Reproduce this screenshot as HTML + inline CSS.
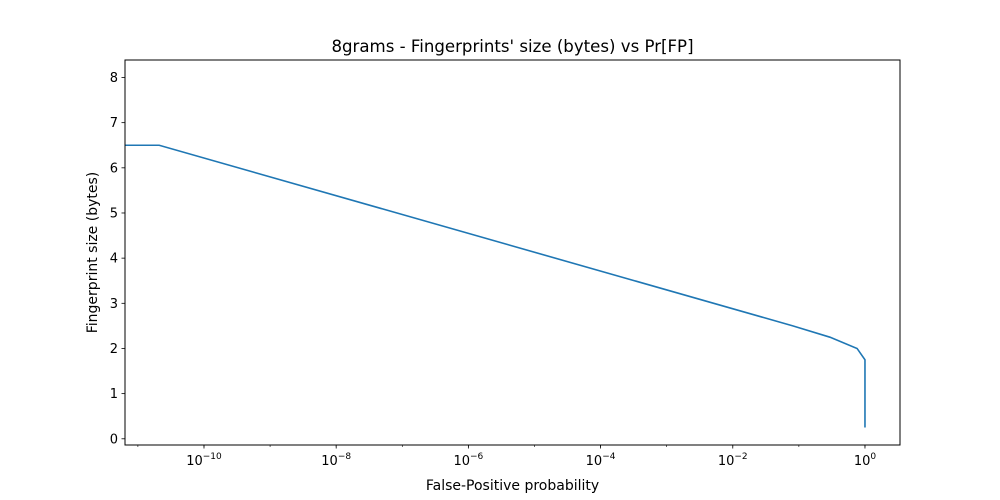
<!DOCTYPE html>
<html><head><meta charset="utf-8"><style>
body{margin:0;background:#fff}
svg{display:block;font-family:"DejaVu Sans","Liberation Sans",sans-serif}
</style></head><body>
<svg id="c" width="1000" height="500"></svg>
<script>
const xValues=[1e-12,2.1e-11,0.081,0.295,0.76,1,1];
const yValues=[6.5,6.5,2.5,2.25,2.0,1.75,0.25];
const yTicks=[0,1,2,3,4,5,6,7,8];
const xTickExps=[-10,-8,-6,-4,-2,0];
const L=125,R=900,T=60,B=445;
const lx0=-11.195,lx1=0.53,y0=-0.1375,y1=8.3875;
const sx=v=>L+(Math.log10(v)-lx0)/(lx1-lx0)*(R-L);
const sy=v=>B-(v-y0)/(y1-y0)*(B-T);
const svg=document.getElementById('c');const NS='http://www.w3.org/2000/svg';
function mk(t,a,p){const e=document.createElementNS(NS,t);for(const k in a)e.setAttribute(k,a[k]);(p||svg).appendChild(e);return e;}
const clip=mk('clipPath',{id:'pc'});mk('rect',{x:L,y:T,width:R-L,height:B-T},clip);
const line=mk('polyline',{points:xValues.map((v,i)=>sx(v)+','+sy(yValues[i])).join(' '),fill:'none',stroke:'#1f77b4','stroke-width':1.6,'clip-path':'url(#pc)'});


const fr=mk('rect',{x:L,y:T,width:R-L,height:B-T,fill:'none',stroke:'#000','stroke-width':1});


yTicks.forEach(v=>{const y=sy(v);mk('line',{x1:L-3.5,x2:L,y1:y,y2:y,stroke:'#000','stroke-width':0.8});
const t=mk('text',{x:L-7,y:y+4.5,'text-anchor':'end','font-size':13});t.textContent=v;

});
for(let e=-11;e<=0;e++){const x=sx(Math.pow(10,e));mk('line',{x1:x,x2:x,y1:B,y2:B+2,stroke:'#000','stroke-width':0.6});}
xTickExps.forEach(e=>{const x=sx(Math.pow(10,e));mk('line',{x1:x,x2:x,y1:B,y2:B+3.5,stroke:'#000','stroke-width':0.8});
const t=mk('text',{x:x,y:B+20,'text-anchor':'middle','font-size':13});
t.innerHTML='10<tspan dy="-6" font-size="9">'+(e<0?'\u2212'+(-e):e)+'</tspan>';

});
const xt=mk('text',{x:(L+R)/2,y:490,'text-anchor':'middle','font-size':14});xt.textContent='False-Positive probability';


const yt=mk('text',{x:0,y:0,'text-anchor':'middle','font-size':14,transform:'translate(97,'+((T+B)/2)+') rotate(-90)'});yt.textContent='Fingerprint size (bytes)';


const tt=mk('text',{x:(L+R)/2,y:52,'text-anchor':'middle','font-size':16.6});tt.textContent="8grams - Fingerprints' size (bytes) vs Pr[FP]";


</script>
</body></html>
